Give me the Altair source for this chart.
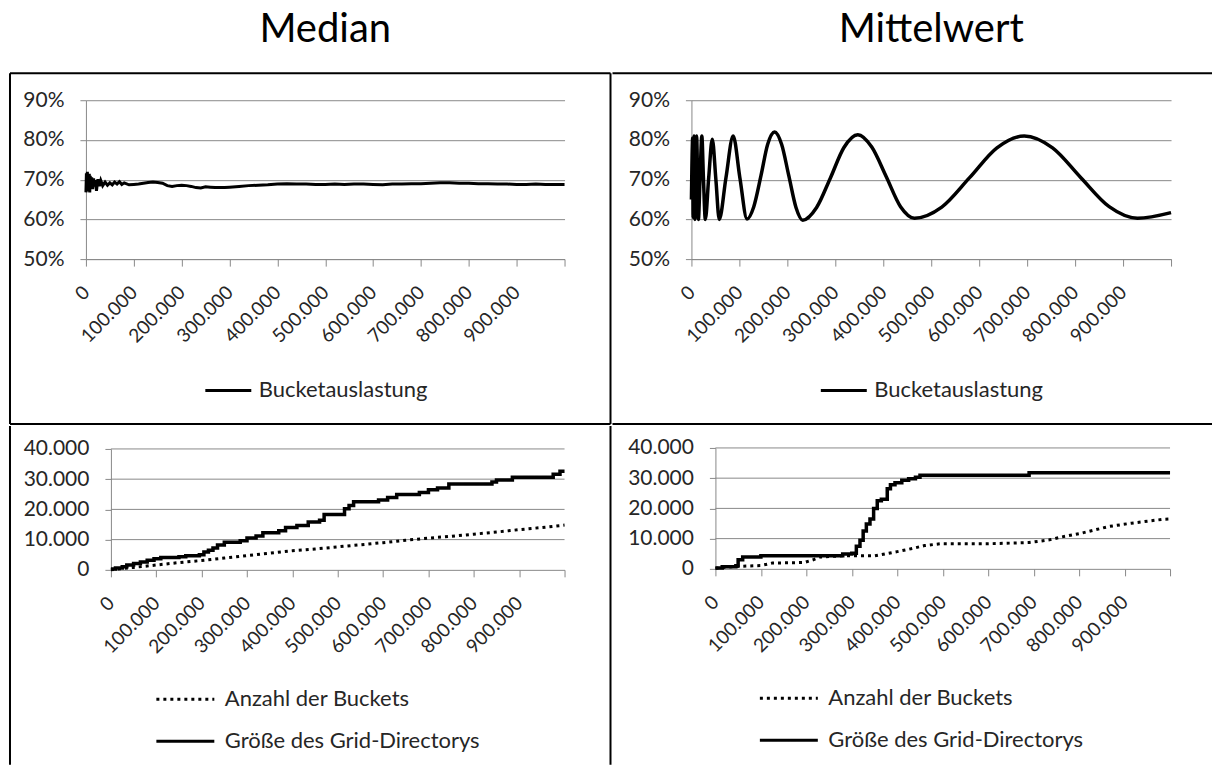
import altair as alt
import pandas as pd

FONT = "Lato"
GRAY = "#898989"
INK = "#262626"

# ---------------------------------------------------------------- data
X_TICKS = [0, 100000, 200000, 300000, 400000, 500000,
           600000, 700000, 800000, 900000, 1000000]
PCT_TICKS = [50, 60, 70, 80, 90]
CNT_TICKS = [0, 10000, 20000, 30000, 40000]

SERIES_TOP = "Bucketauslastung"
SERIES_BOTTOM = ["Anzahl der Buckets", "Größe des Grid-Directorys"]

# x positions below are in thousands of inserted records

# Median: Bucketauslastung in %
med_x = [0, 1, 2, 3, 4, 5, 6, 7, 8, 9, 10, 12, 14, 16, 18, 20, 22, 25, 28, 31,
         35, 40, 45, 50, 55, 60, 65, 70, 75, 80, 90, 100, 110, 120, 130, 140,
         150, 160, 170, 180, 190, 200, 210, 220, 230, 240, 250, 260, 270, 280,
         290, 300, 320, 340, 360, 380, 400, 420, 440, 460, 480, 500, 520, 540,
         560, 580, 600, 620, 640, 660, 680, 700, 720, 740, 760, 780, 800, 820,
         840, 860, 880, 900, 920, 940, 960, 980, 1000]
med_y = [66.8, 71.6, 67.0, 72.0, 67.4, 70.8, 68.2, 71.5, 66.8, 71.0, 68.0,
         70.6, 67.6, 70.3, 68.3, 69.9, 67.2, 70.1, 68.4, 69.8,
         68.5, 69.4, 68.6, 69.2, 68.7, 69.4, 68.9, 69.5, 68.8, 69.2, 68.7,
         68.8, 68.9, 69.1, 69.3, 69.4,
         69.3, 69.1, 68.5, 68.3, 68.5, 68.6, 68.5, 68.3, 68.0, 67.9, 68.2,
         68.1, 68.0, 68.0,
         68.0, 68.1, 68.3, 68.5, 68.6, 68.7, 68.9, 69.0, 68.9, 68.9, 68.8,
         68.8, 68.9, 68.8,
         68.9, 68.9, 68.8, 68.7, 68.9, 68.9, 69.0, 69.0, 69.1, 69.2, 69.2,
         69.1, 69.1, 69.0,
         69.0, 68.9, 68.9, 68.8, 68.8, 68.9, 68.8, 68.8, 68.8]

# Mittelwert: Bucketauslastung in %
mw_x = [0, 2.7, 3.6, 5.4, 7.3, 10.8, 14.5, 18, 21.7, 25, 29, 36, 43.5, 51, 58,
        72, 87, 101, 116, 130, 145, 159, 173.5, 188, 203, 218, 232, 261, 290,
        318, 347, 376, 406, 436, 465, 522, 580, 637, 694, 753, 812, 871, 930,
        1000]
mw_y = [65.0, 80.5, 60.5, 81.0, 60.0, 81.0, 60.0, 70.5, 81.0, 70.5, 60.0,
        70.5, 80.2, 70.0, 60.0, 70.5, 81.0, 70.5, 60.1, 63.2, 71.0, 78.9,
        82.0, 78.9, 71.0, 63.0, 59.8, 63.0, 70.5, 78.1, 81.3, 78.2, 70.8,
        63.2, 60.3, 63.1, 70.5, 78.0, 81.0, 78.0, 70.5, 63.2, 60.3, 61.7]

# Median: Größe des Grid-Directorys / Anzahl der Buckets (thousands)
med_dir_x = [0, 10, 25, 35, 50, 65, 80, 95, 110, 150, 165, 195, 205, 215,
             225, 235, 250, 285, 300, 320, 335, 370, 385, 410, 435, 460, 470,
             515, 525, 535, 590, 610, 630, 680, 700, 720, 745, 840, 850, 885,
             975, 990, 1000]
med_dir_y = [0.3, 0.6, 1.0, 1.6, 2.1, 2.6, 3.2, 3.7, 4.1, 4.3, 4.7, 5.0, 5.9,
             6.5, 7.2, 8.2, 9.1, 9.6, 10.5, 11.2, 12.3, 12.9, 14.0, 14.7, 15.8,
             16.4, 18.3, 20.2, 21.3, 22.5, 23.1, 23.9, 24.9, 25.6, 26.5, 27.1,
             28.4, 29.1, 29.7, 30.6, 31.6, 32.6, 32.6]
med_bkt_x = [0, 50, 100, 150, 200, 250, 300, 350, 400, 450, 500, 550, 600,
             650, 700, 750, 800, 850, 900, 950, 1000]
med_bkt_y = [0.0, 0.8, 1.6, 2.4, 3.1, 3.9, 4.7, 5.5, 6.3, 6.9, 7.6, 8.3, 9.0,
             9.8, 10.5, 11.1, 11.8, 12.5, 13.3, 14.0, 14.8]

# Mittelwert: Größe des Grid-Directorys / Anzahl der Buckets (thousands)
mw_dir_x = [0, 15, 45, 50, 60, 100, 280, 300, 310, 318, 325, 332, 340, 348,
            356, 365, 378, 385, 395, 410, 425, 440, 450, 690, 1000]
mw_dir_y = [0.3, 0.7, 1.0, 3.0, 3.9, 4.3, 4.9, 5.2, 7.5, 9.5, 12.5, 14.8,
            16.5, 20.0, 22.5, 23.0, 26.5, 27.8, 28.5, 29.3, 29.8, 30.3, 31.0,
            31.8, 31.8]
mw_bkt_x = [0, 45, 100, 125, 195, 215, 230, 280, 350, 400, 435, 460, 495,
            600, 690, 735, 760, 805, 865, 915, 985, 1000]
mw_bkt_y = [0.2, 0.8, 1.1, 1.9, 2.1, 3.0, 3.9, 4.3, 4.3, 5.7, 6.8, 7.7, 8.3,
            8.3, 8.7, 9.6, 10.5, 11.8, 14.0, 15.1, 16.4, 16.5]


def pct_frame(xs, ys):
    return pd.DataFrame({"x": [v * 1000 for v in xs], "y": ys,
                         "series": SERIES_TOP})


def cnt_frame(dir_x, dir_y, bkt_x, bkt_y):
    a = pd.DataFrame({"x": [v * 1000 for v in bkt_x],
                      "y": [v * 1000 for v in bkt_y],
                      "series": SERIES_BOTTOM[0]})
    b = pd.DataFrame({"x": [v * 1000 for v in dir_x],
                      "y": [v * 1000 for v in dir_y],
                      "series": SERIES_BOTTOM[1]})
    return pd.concat([a, b], ignore_index=True)


ONE = pd.DataFrame({"k": [0]})


# ---------------------------------------------------------------- pieces
def x_enc(x0, plot_w):
    return alt.X(
        "x:Q",
        scale=alt.Scale(domain=[0, 1000000], nice=False,
                        range=[x0, x0 + plot_w]),
        axis=alt.Axis(
            values=X_TICKS, format=",d",
            labelExpr="datum.value >= 1000000 ? '' : replace(datum.label, ',', '.')",
            labelAngle=-45, labelAlign="right", labelBaseline="middle",
            labelFontSize=19, labelPadding=23, labelOffset=0,
            labelFlush=False, labelOverlap=False, tickSize=7, grid=False,
            title=None,
        ),
    )


def y_enc(domain, values, expr, x0, grid):
    return alt.Y(
        "y:Q",
        scale=alt.Scale(domain=domain, nice=False, zero=False),
        axis=alt.Axis(values=values, labelExpr=expr, grid=grid, tickSize=6,
                      labelPadding=16, offset=-x0, title=None),
    )


def frame(left, right, top, bottom, sides):
    """Panel box: an invisible rect for the extent plus the drawn edges."""
    layers = [alt.Chart(ONE).mark_rect(opacity=0).encode(
        x=alt.value(left), x2=alt.value(right),
        y=alt.value(top), y2=alt.value(bottom))]
    edges = {
        "top": dict(x=alt.value(left), x2=alt.value(right), y=alt.value(top)),
        "bottom": dict(x=alt.value(left), x2=alt.value(right), y=alt.value(bottom)),
        "left": dict(x=alt.value(left), y=alt.value(top), y2=alt.value(bottom)),
        "right": dict(x=alt.value(right), y=alt.value(top), y2=alt.value(bottom)),
    }
    for s in sides:
        layers.append(alt.Chart(ONE).mark_rule(color="black", strokeWidth=2)
                      .encode(**edges[s]))
    return layers


def pct_panel(df, plot_w, lx, ly, stroke_w, interp, box, sides, title):
    line = alt.Chart(df).mark_line(strokeWidth=stroke_w, interpolate=interp).encode(
        x=x_enc(0, plot_w),
        y=y_enc([50, 90], PCT_TICKS, "datum.value + '%'", 0, True),
        color=alt.Color(
            "series:N",
            scale=alt.Scale(domain=[SERIES_TOP], range=["black"]),
            legend=alt.Legend(orient="none", legendX=lx, legendY=ly,
                              title=None, symbolType="stroke",
                              symbolSize=46 * 46, symbolStrokeWidth=3,
                              labelOffset=6, padding=0, labelLimit=0),
        ),
    )
    return alt.layer(*frame(*box, sides), line).properties(
        width=plot_w, height=159,
        title=alt.TitleParams(title, anchor="middle", baseline="alphabetic",
                              offset=-10),
    )


def cnt_panel(df, x0, plot_w, lx, ly, box, sides):
    """Count panel; the plot starts x0 px right of the column origin."""
    dash = alt.StrokeDash(
        "series:N",
        scale=alt.Scale(domain=SERIES_BOTTOM, range=[[3, 4], [1, 0]]),
        legend=alt.Legend(orient="none", legendX=lx, legendY=ly, title=None,
                          symbolType="stroke", symbolSize=58 * 58,
                          symbolStrokeWidth=3, symbolStrokeColor="black",
                          labelOffset=9, padding=0, rowPadding=-15,
                          labelLimit=0),
    )
    x = x_enc(x0, plot_w)
    y = y_enc([0, 40000], CNT_TICKS,
              "replace(format(datum.value, ',d'), ',', '.')", x0, False)
    grid = alt.Chart(pd.DataFrame({"y": CNT_TICKS[1:]})).mark_rule(
        color=GRAY, strokeWidth=1
    ).encode(x=alt.value(x0), x2=alt.value(x0 + plot_w), y=y)
    buckets = alt.Chart(df).transform_filter(
        alt.datum.series == SERIES_BOTTOM[0]
    ).mark_line(color="black", strokeWidth=3).encode(
        x=x, y=y, strokeDash=dash)
    directory = alt.Chart(df).transform_filter(
        alt.datum.series == SERIES_BOTTOM[1]
    ).mark_line(color="black", strokeWidth=3.5, interpolate="step-after").encode(
        x=x, y=y, strokeDash=dash)
    return alt.layer(*frame(*box, sides), grid, buckets, directory).properties(
        width=x0 + plot_w, height=121)


top_left = pct_panel(pct_frame(med_x, med_y), 479, 118, 266, 3, "linear",
                     (-76, 525, -27, 324), ["top", "left", "right", "bottom"],
                     "Median")
top_right = pct_panel(pct_frame(mw_x, mw_y), 480, 128, 266, 3.5, "monotone",
                      (-79, 521, -27, 324), ["top", "bottom"], "Mittelwert")
bottom_left = cnt_panel(cnt_frame(med_dir_x, med_dir_y, med_bkt_x, med_bkt_y),
                        25, 454, 69, 220, (-76, 525, -23, 316),
                        ["left", "right"])
bottom_right = cnt_panel(cnt_frame(mw_dir_x, mw_dir_y, mw_bkt_x, mw_bkt_y),
                         25, 455, 68, 220, (-79, 521, -23, 316), [])

chart = alt.concat(
    top_left, top_right, bottom_left, bottom_right,
    columns=2, spacing=0, align="none", bounds="full",
).resolve_scale(
    color="independent", strokeDash="independent"
).resolve_legend(
    color="independent", strokeDash="independent"
).properties(
    padding={"left": 9, "top": 10, "right": 0, "bottom": 0},
    background="white",
).configure_view(
    stroke=None,
).configure_axis(
    labelFont=FONT, labelFontSize=21, labelColor=INK,
    domainColor=GRAY, tickColor=GRAY, gridColor=GRAY,
    domainWidth=1, tickWidth=1, gridWidth=1,
).configure_legend(
    labelFont=FONT, labelFontSize=22, labelColor=INK,
).configure_title(
    font=FONT, fontSize=40, fontWeight="normal", color="black",
)

chart.save("out.html", embed_options={"renderer": "svg", "actions": False})
